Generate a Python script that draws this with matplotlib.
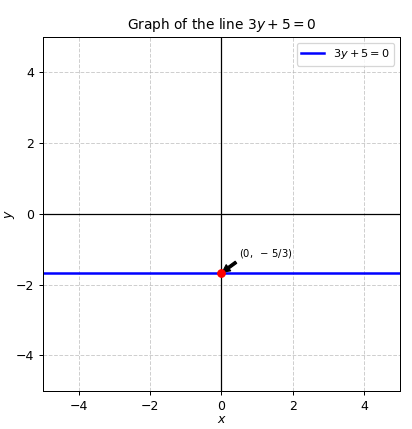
import numpy as np
import matplotlib
matplotlib.use("Agg")
import matplotlib.pyplot as plt

# line 3y + 5 = 0  ->  y = -5/3
x_vals = [-5, 5]
y_vals = [-5 / 3, -5 / 3]
point_x = [0]
point_y = [-5 / 3]
ticks = [-4, -2, 0, 2, 4]

fig, ax = plt.subplots(figsize=(412 / 90, 429 / 90), dpi=90)
fig.subplots_adjust(left=0.104, right=0.971, top=0.914, bottom=0.089)

ax.axhline(0, color='black', linewidth=1)
ax.axvline(0, color='black', linewidth=1)

ax.plot(x_vals, y_vals, color='blue', linewidth=2, label=r'$3y + 5 = 0$')
ax.plot(point_x, point_y, 'o', color='red', markersize=6, zorder=5)

ax.annotate(r'$(0,\ -\,5/3)$', xy=(point_x[0], point_y[0]), xytext=(0.5, -1.2),
            fontsize=8,
            arrowprops=dict(facecolor='black', shrink=0.05, width=2, headwidth=6, headlength=6))

ax.set_xlim(-5, 5)
ax.set_ylim(-5, 5)
ax.set_xticks(ticks)
ax.set_yticks(ticks)
ax.grid(True, linestyle='--', alpha=0.6)

ax.set_xlabel(r'$x$', labelpad=0)
ax.set_ylabel(r'$y$', labelpad=-1)
ax.set_title(r'Graph of the line $3y + 5 = 0$', fontsize=11)
ax.legend(loc='upper right', fontsize=9)

plt.savefig('out.png', dpi=90)
